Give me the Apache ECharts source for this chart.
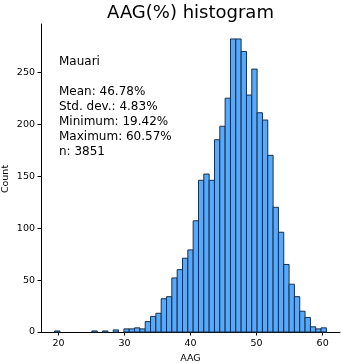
<!DOCTYPE html>
<html>
<head>
<meta charset="utf-8">
<script src="https://cdn.jsdelivr.net/npm/echarts@6/dist/echarts.min.js"></script>
<style>
html,body{margin:0;padding:0;background:#fff;}
#chart{width:341px;height:363px;}
</style>
</head>
<body>
<div id="chart"></div>
<script>
// ---- data ----
const titleText = 'AAG(%) histogram';
const xName = 'AAG';
const yName = 'Count';
const binMin = 19.42;
const binMax = 60.57;
const counts = [1,0,0,0,0,0,0,1,0,1,0,2,0,3,3,4,3,10,15,18,32,34,52,60,71,79,107,146,152,146,185,198,225,282,282,270,228,253,211,204,170,120,96,65,46,34,20,14,5,3,4];
const xTicks = [20,30,40,50,60];
const yTicks = [0,50,100,150,200,250];
const statsLines = ['Mauari', '', 'Mean: 46.78%', 'Std. dev.: 4.83%', 'Minimum: 19.42%', 'Maximum: 60.57%', 'n: 3851'];

// ---- build histogram items (bin edges from range and bin count) ----
const binW = (binMax - binMin) / counts.length;
const items = counts.map((c, i) => [binMin + i * binW, binMin + (i + 1) * binW, c]);

const FONT = 'DejaVu Sans';
const chart = echarts.init(document.getElementById('chart'), null, {renderer: 'canvas'});

const graphics = [{
  type: 'text', x: 190.5, y: 13,
  style: {text: titleText, font: '18px "DejaVu Sans"', fill: '#000', textAlign: 'center', textVerticalAlign: 'middle'}
}, {
  type: 'text', x: 6, y: 179, rotation: Math.PI / 2,
  style: {text: yName, font: '9.5px "DejaVu Sans"', fill: '#000', textAlign: 'center', textVerticalAlign: 'middle'}
}];
statsLines.forEach((t, i) => {
  if (!t) return;
  graphics.push({
    type: 'text', x: 59, y: 62 + i * 15,
    style: {text: t, font: '12px "DejaVu Sans"', fill: '#000', textAlign: 'left', textVerticalAlign: 'middle'}
  });
});

chart.setOption({
  animation: false,
  backgroundColor: '#fff',
  grid: {left: 41, right: 1, top: 24, bottom: 31, containLabel: false, outerBoundsMode: 'none'},
  xAxis: {
    type: 'value', min: 17.36, max: 62.63,
    splitLine: {show: false},
    axisLine: {show: true, onZero: false, lineStyle: {color: '#000', width: 1}},
    axisTick: {show: true, customValues: xTicks, length: 3.5, lineStyle: {color: '#000', width: 1}},
    axisLabel: {customValues: xTicks, margin: 7, fontSize: 9.5, color: '#000', fontFamily: FONT},
    name: xName, nameLocation: 'middle', nameGap: 21,
    nameTextStyle: {fontSize: 9.5, color: '#000', fontFamily: FONT}
  },
  yAxis: {
    type: 'value', min: 0, max: 296.4,
    splitLine: {show: false},
    axisLine: {show: true, lineStyle: {color: '#000', width: 1}},
    axisTick: {show: true, customValues: yTicks, length: 3.5, lineStyle: {color: '#000', width: 1}},
    axisLabel: {customValues: yTicks, margin: 6, fontSize: 9.5, color: '#000', fontFamily: FONT}
  },
  graphic: graphics,
  series: [{
    type: 'custom',
    data: items,
    encode: {x: [0, 1], y: 2},
    clip: false,
    renderItem: function (params, api) {
      const x0 = api.value(0), x1 = api.value(1), c = api.value(2);
      if (!c) return null;
      const p0 = api.coord([x0, c]);
      const p1 = api.coord([x1, 0]);
      return {
        type: 'rect',
        shape: {x: p0[0], y: p0[1], width: p1[0] - p0[0], height: p1[1] - p0[1]},
        style: {fill: '#56a9fc', stroke: '#17304a', lineWidth: 1}
      };
    }
  }]
});
</script>
</body>
</html>
